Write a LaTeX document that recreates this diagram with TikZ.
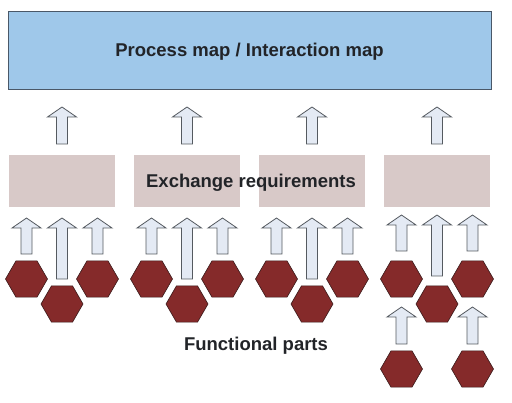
\documentclass[tikz,border=0pt]{standalone}
\usepackage{fontspec}
\setmainfont{Liberation Sans}
\usetikzlibrary{shapes.geometric}
\definecolor{mapblue}{HTML}{9FC8EA}
\definecolor{mapborder}{HTML}{4A5868}
\definecolor{reqpink}{HTML}{D8C9C8}
\definecolor{arrowfill}{HTML}{E4EAF4}
\definecolor{arrowline}{HTML}{555A60}
\definecolor{hexred}{HTML}{852A2A}
\definecolor{hexline}{HTML}{3A1A1A}
\definecolor{txt}{HTML}{222428}
\tikzset{
  mapbox/.style={draw=mapborder, line width=1pt, fill=mapblue},
  reqbox/.style={fill=reqpink},
  blockarrow/.style={draw=arrowline, line width=0.8pt, fill=arrowfill, line join=miter},
  hexpart/.style={regular polygon, regular polygon sides=6, minimum size=42pt, inner sep=0pt, fill=hexred, draw=hexline, line width=0.6pt},
  label/.style={font=\bfseries\fontsize{18.5}{20}\selectfont, text=txt}
}
% \uparr{cx}{tip y}{bottom y}
\newcommand{\uparr}[3]{%
  \draw[blockarrow] (#1,#2) -- (#1+14.5,#2+10) -- (#1+5.5,#2+10) -- (#1+5.5,#3)
    -- (#1-5.5,#3) -- (#1-5.5,#2+10) -- (#1-14.5,#2+10) -- cycle;}
\begin{document}
\begin{tikzpicture}[x=1pt,y=-1pt]
\useasboundingbox (0,0) rectangle (512,403);
% top box
\draw[mapbox] (8,12) rectangle (491,90);
\node[label] (map) at (249.5,52) {Process map / Interaction map};
% exchange requirement boxes
\fill[reqbox] (9,155) rectangle (115,207);
\fill[reqbox] (134,155) rectangle (240,207);
\fill[reqbox] (259,155) rectangle (365,207);
\fill[reqbox] (384,155) rectangle (490,207);
\node[label] (req) at (251,183) {Exchange requirements};
% top arrows
\uparr{62}{107}{144}
\uparr{187}{107}{144}
\uparr{312}{107}{144}
\uparr{437}{107}{144}
% group arrows
\foreach \c/\t in {62/218,187/218,312/218,437/215}{
  \uparr{\c-35.5}{\t}{\t+36}
  \uparr{\c}{\t}{\t+61}
  \uparr{\c+35.5}{\t}{\t+36}
}
% hexagons
\foreach \c/\n in {62/a,187/b,312/c,437/d}{
  \node[hexpart] (h\n1) at (\c-35.5,279) {};
  \node[hexpart] (h\n2) at (\c,304) {};
  \node[hexpart] (h\n3) at (\c+35.5,279) {};
}
% extra lower arrows and hexagons in group 4
\uparr{401.5}{307}{344}
\uparr{472.5}{307}{344}
\node[hexpart] (hd4) at (401.5,369) {};
\node[hexpart] (hd5) at (472.5,369) {};
\node[label] (parts) at (256,346) {Functional parts};
\end{tikzpicture}
\end{document}
